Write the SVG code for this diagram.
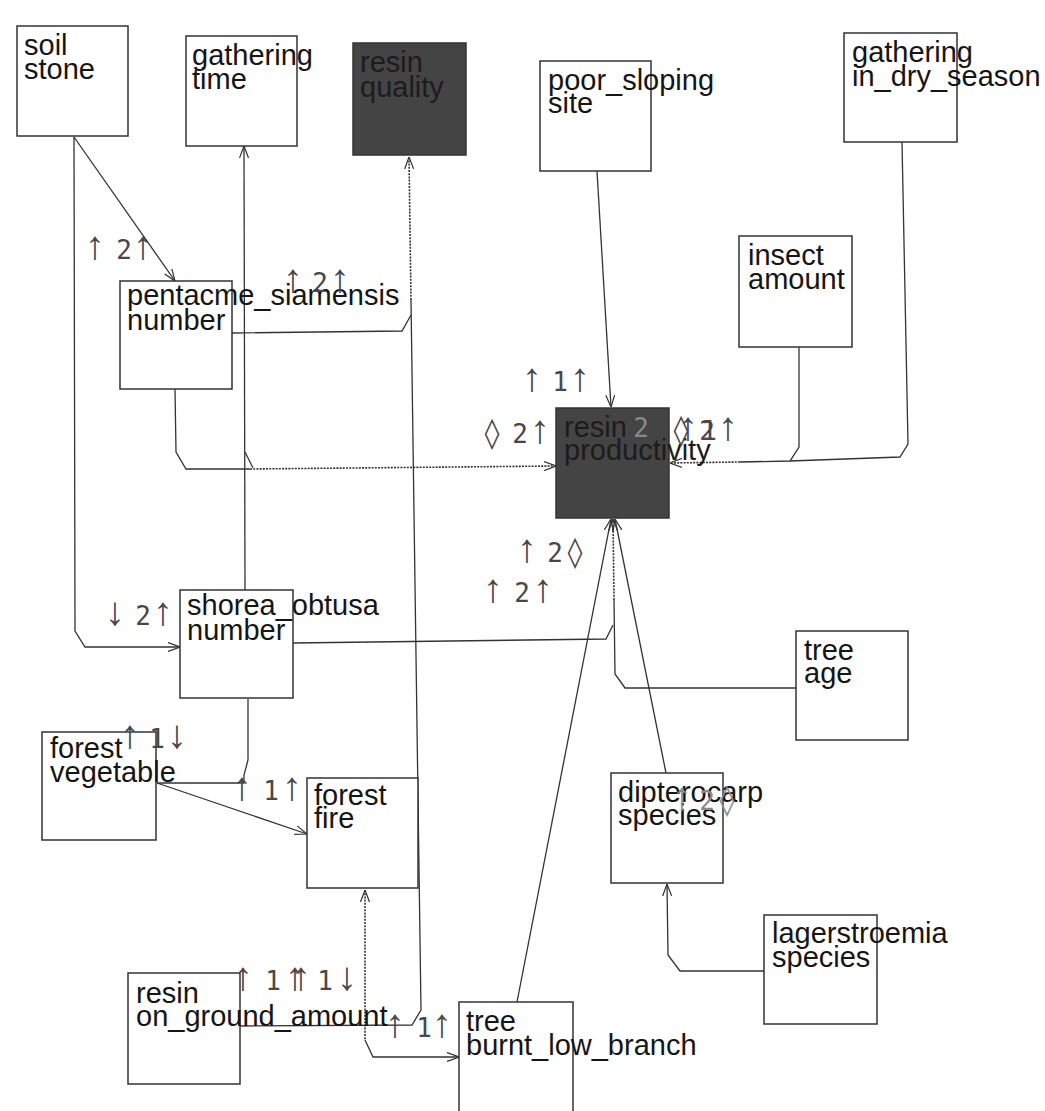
<svg xmlns="http://www.w3.org/2000/svg" width="1045" height="1111" viewBox="0 0 1045 1111">
<style>
.box{fill:#ffffff;stroke:#333;stroke-width:1.5}
.dark{fill:#444444;stroke:#333;stroke-width:1.5}
.t{font-family:"Liberation Sans",Arial,sans-serif;font-size:29px;fill:#151515}
.td{font-family:"Liberation Sans",Arial,sans-serif;font-size:29px;fill:#1c1c1c}
.c{fill:none;stroke:#333;stroke-width:1.3}
.d{fill:none;stroke:#333;stroke-width:1.6;stroke-dasharray:2 1.2}
.l{font-family:"DejaVu Sans Mono",monospace;font-size:26px;fill:#484848;text-anchor:middle}
.lf{fill:#8a8a8a}
.a{font-family:"Liberation Mono","DejaVu Sans Mono",monospace;font-size:40px}
.z{font-family:"DejaVu Sans Mono",monospace;font-size:30px}
</style>
<defs>
<marker id="arr" viewBox="0 0 12 10" refX="12" refY="5" markerWidth="12" markerHeight="10" markerUnits="userSpaceOnUse" orient="auto">
<path d="M0,0.5 L12,5 L0,9.5" fill="none" stroke="#333" stroke-width="1.2"/>
</marker>
<marker id="arrs" viewBox="0 0 12 10" refX="0" refY="5" markerWidth="12" markerHeight="10" markerUnits="userSpaceOnUse" orient="auto">
<path d="M12,0.5 L0,5 L12,9.5" fill="none" stroke="#333" stroke-width="1.2"/>
</marker>
</defs>
<rect width="1045" height="1111" fill="#ffffff"/>
<g id="connectors">
<path class="c" d="M74,137 L175,281" marker-end="url(#arr)"/>
<path class="c" d="M74,137 L75,631 L85,647 L180,647" marker-end="url(#arr)"/>
<path class="c" d="M175,389 L176,452 L186,469 L250,469"/>
<path class="d" d="M250,469 L556,466" marker-end="url(#arr)"/>
<path class="c" d="M245,590 L244,146" marker-end="url(#arr)"/>
<path class="c" d="M245,452 L253,468"/>
<path class="c" d="M232,333 L402,331 L411,315"/>
<path class="c" d="M240,1026 L412,1025 L421,1010 L411,300"/>
<path class="d" d="M411,300 L409,157" marker-end="url(#arr)"/>
<path class="c" d="M248,699 L248,760 L244,775 L244,783 L157,783"/>
<path class="c" d="M157,783 L307,834" marker-end="url(#arr)"/>
<path class="d" d="M365,890 L365,1040" marker-start="url(#arrs)"/>
<path class="c" d="M365,1040 L373,1057 L459,1057" marker-end="url(#arr)"/>
<path class="c" d="M517,1002 L611,519" marker-end="url(#arr)"/>
<path class="c" d="M666,773 L615,519" marker-end="url(#arr)"/>
<path class="c" d="M797,688 L625,688 L615,674 L614,600"/>
<path class="d" d="M614,600 L613,519" marker-end="url(#arr)"/>
<path class="c" d="M293,643 L606,639 L613,625"/>
<path class="c" d="M764,971 L680,971 L668,955 L667,884" marker-end="url(#arr)"/>
<path class="c" d="M597,171 L611,407" marker-end="url(#arr)"/>
<path class="c" d="M799,347 L799,447 L790,461 L740,462"/>
<path class="d" d="M740,462 L670,463" marker-end="url(#arr)"/>
<path class="c" d="M902,142 L908,444 L900,457 L790,461"/>
</g>
<g id="n_soil_stone"><rect class="box" x="17" y="26" width="111" height="110"/><text class="t" x="24" y="55">soil</text><text class="t" x="24" y="79">stone</text></g>
<g id="n_gathering_time"><rect class="box" x="186" y="36" width="111" height="110"/><text class="t" x="192" y="65">gathering</text><text class="t" x="192" y="89">time</text></g>
<g id="n_resin_quality"><rect class="dark" x="353" y="43" width="113" height="112"/><text class="td" x="360" y="72">resin</text><text class="td" x="360" y="97">quality</text></g>
<g id="n_poor_sloping_site"><rect class="box" x="540" y="61" width="111" height="110"/><text class="t" x="548" y="90">poor_sloping</text><text class="t" x="548" y="113">site</text></g>
<g id="n_gathering_in_dry_season"><rect class="box" x="844" y="33" width="113" height="109"/><text class="t" x="852" y="62">gathering</text><text class="t" x="852" y="86">in_dry_season</text></g>
<g id="n_insect_amount"><rect class="box" x="739" y="236" width="113" height="111"/><text class="t" x="748" y="265">insect</text><text class="t" x="748" y="289">amount</text></g>
<g id="n_pentacme_siamensis_number"><rect class="box" x="120" y="281" width="112" height="108"/><text class="t" x="127" y="305">pentacme_siamensis</text><text class="t" x="127" y="330">number</text></g>
<g id="n_resin_productivity"><rect class="dark" x="556" y="408" width="113" height="110"/><text class="td" x="564" y="437">resin</text><text class="td" x="564" y="460">productivity</text></g>
<g id="n_shorea_obtusa_number"><rect class="box" x="180" y="590" width="113" height="108"/><text class="t" x="187" y="615">shorea_obtusa</text><text class="t" x="187" y="640">number</text></g>
<g id="n_tree_age"><rect class="box" x="796" y="631" width="112" height="109"/><text class="t" x="804" y="660">tree</text><text class="t" x="804" y="683">age</text></g>
<g id="n_forest_vegetable"><rect class="box" x="42" y="732" width="114" height="108"/><text class="t" x="50" y="758">forest</text><text class="t" x="50" y="782">vegetable</text></g>
<g id="n_forest_fire"><rect class="box" x="307" y="778" width="111" height="110"/><text class="t" x="314" y="805">forest</text><text class="t" x="314" y="828">fire</text></g>
<g id="n_dipterocarp_species"><rect class="box" x="611" y="773" width="112" height="110"/><text class="t" x="618" y="802">dipterocarp</text><text class="t" x="618" y="825">species</text></g>
<g id="n_lagerstroemia_species"><rect class="box" x="764" y="915" width="113" height="109"/><text class="t" x="772" y="943">lagerstroemia</text><text class="t" x="772" y="967">species</text></g>
<g id="n_resin_on_ground_amount"><rect class="box" x="128" y="973" width="112" height="111"/><text class="t" x="136" y="1003">resin</text><text class="t" x="136" y="1026">on_ground_amount</text></g>
<g id="n_tree_burnt_low_branch"><rect class="box" x="459" y="1002" width="114" height="120"/><text class="t" x="466" y="1031">tree</text><text class="t" x="466" y="1055">burnt_low_branch</text></g>
<g id="labels">
<text class="l" y="259"><tspan class="a" x="95">↑</tspan><tspan x="124">2</tspan><tspan class="a" x="143">↑</tspan></text>
<text class="l" y="292"><tspan class="a" x="293">↑</tspan><tspan x="320">2</tspan><tspan class="a" x="340">↑</tspan></text>
<text class="l" y="391"><tspan class="a" x="532">↑</tspan><tspan x="560">1</tspan><tspan class="a" x="580">↑</tspan></text>
<text class="l" y="443"><tspan class="z" x="492">◊</tspan><tspan x="520">2</tspan><tspan class="a" x="540">↑</tspan></text>
<text class="l lf" y="437"><tspan x="641">2</tspan></text>
<text class="l" y="440"><tspan class="z" x="681">◊</tspan><tspan class="a" x="688">↑</tspan><tspan x="707">2</tspan><tspan x="709">1</tspan><tspan class="a" x="728">↑</tspan></text>
<text class="l" y="562"><tspan class="a" x="527">↑</tspan><tspan x="555">2</tspan><tspan class="z" x="575">◊</tspan></text>
<text class="l" y="602"><tspan class="a" x="493">↑</tspan><tspan x="522">2</tspan><tspan class="a" x="543">↑</tspan></text>
<text class="l" y="625"><tspan class="a" x="115">↓</tspan><tspan x="143">2</tspan><tspan class="a" x="163">↑</tspan></text>
<text class="l" y="748"><tspan class="a" x="130">↑</tspan><tspan x="157">1</tspan><tspan class="a" x="177">↓</tspan></text>
<text class="l" y="800"><tspan class="a" x="242">↑</tspan><tspan x="271">1</tspan><tspan class="a" x="292">↑</tspan></text>
<text class="l lf" y="810"><tspan class="a" x="682">↑</tspan><tspan x="707">2</tspan><tspan class="z" x="727">◊</tspan></text>
<text class="l" y="990"><tspan class="a" x="243">↑</tspan><tspan x="273">1</tspan><tspan class="a" x="295">↑</tspan><tspan class="a" x="301">↑</tspan><tspan x="325">1</tspan><tspan class="a" x="347">↓</tspan></text>
<text class="l" y="1037"><tspan class="a" x="395">↑</tspan><tspan x="424">1</tspan><tspan class="a" x="442">↑</tspan></text>
</g>
</svg>
